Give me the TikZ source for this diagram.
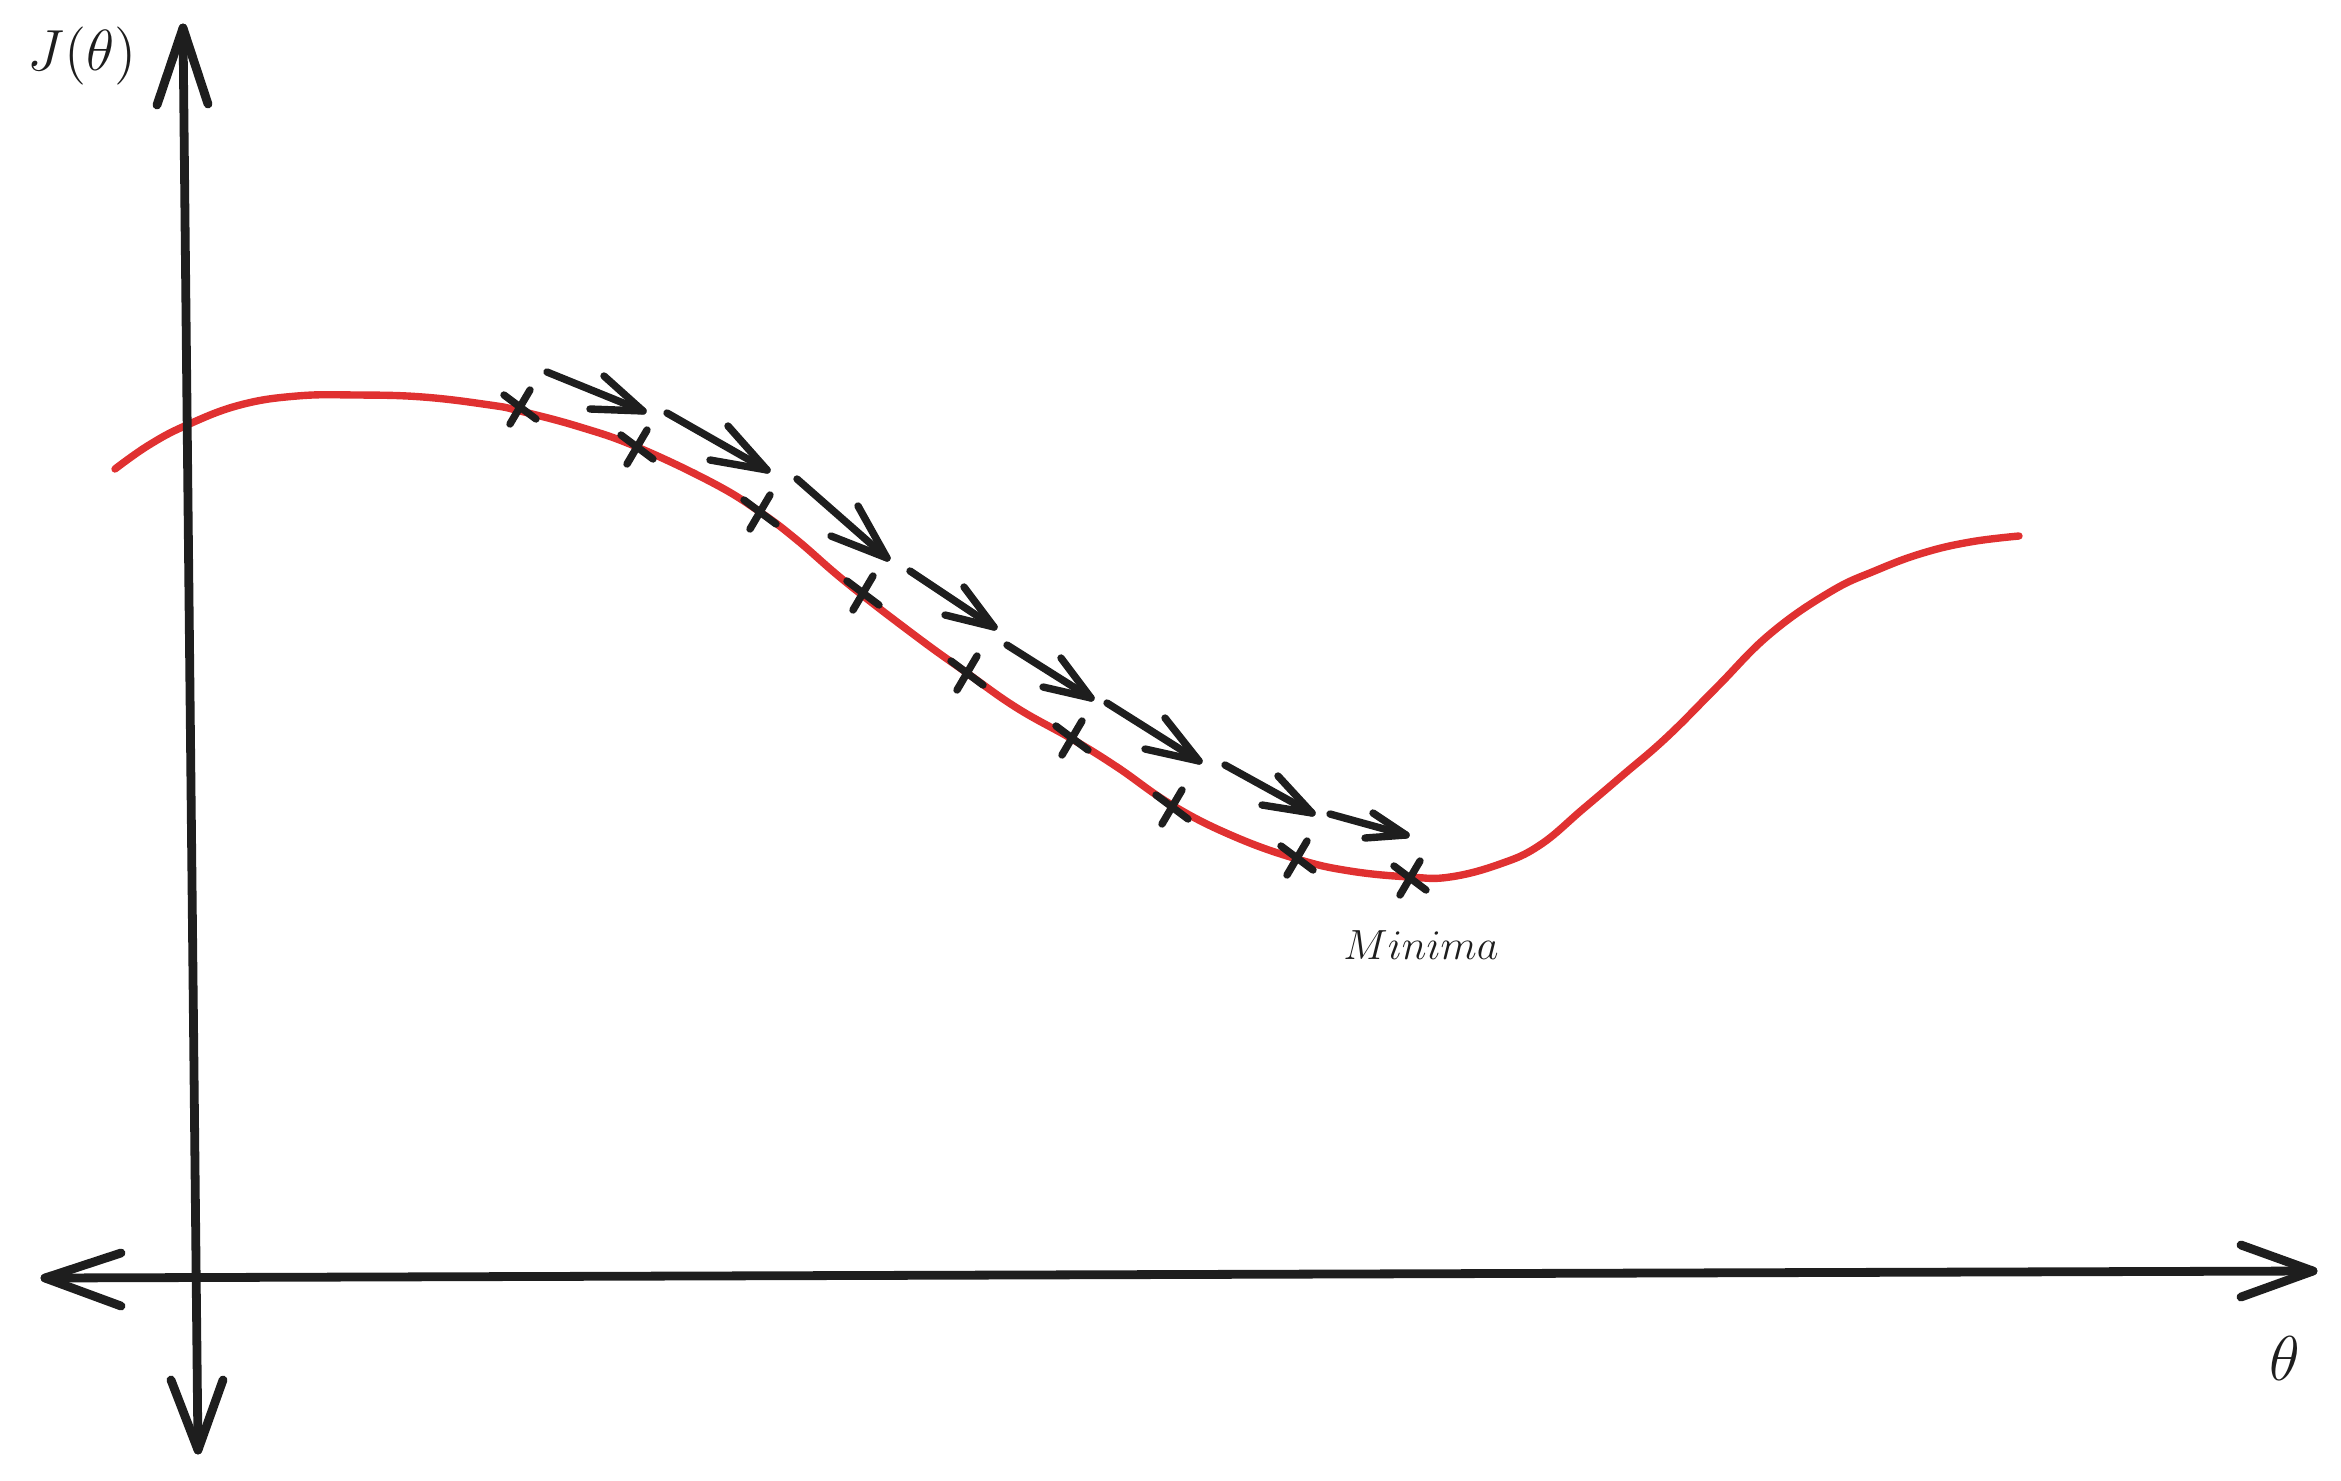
\documentclass[tikz,border=0pt]{standalone}
\usepackage{fix-cm}
\definecolor{inkblack}{HTML}{1E1E1E}
\definecolor{curvered}{HTML}{E03131}
\begin{document}
\begin{tikzpicture}[x=0.01cm,y=-0.01cm,line cap=round,line join=round,
  axisline/.style={draw=inkblack,line width=2.5pt},
  stepline/.style={draw=inkblack,line width=2.1pt},
  costcurve/.style={draw=curvered,line width=2.1pt},
  lbl/.style={inner sep=0pt,text=inkblack}]
\useasboundingbox[fill=white] (0,0) rectangle (2341,1481);

% cost curve
\draw[costcurve] plot[smooth,tension=0.7] coordinates {
 (115,469) (149,445) (187,425) (240,405) (297,396) (357,395) (423,397)
 (490,405) (520,411) (580,427) (637,447) (713,483) (760,512) (797,540)
 (847,583) (917,637) (967,673) (1017,708) (1072,739) (1117,767) (1172,805)
 (1233,836) (1297,859) (1350,871) (1410,877) (1450,877) (1500,864)
 (1540,845) (1583,809) (1623,775) (1667,737) (1717,687) (1770,634)
 (1830,592) (1877,570) (1923,553) (1970,542) (2019,536)};

% axes
\coordinate (ytop) at (183,28);
\coordinate (ybot) at (198,1450);
\coordinate (xleft) at (45,1278);
\coordinate (xright) at (2313,1271);
\draw[axisline] (ybot) -- (ytop);
\draw[axisline] (ytop) ++(-26,77) -- (ytop) -- ++(25,76);
\draw[axisline] (ybot) ++(-27,-70) -- (ybot) -- ++(25,-70);
\draw[axisline] (xleft) -- (xright);
\draw[axisline] (xleft) ++(76,-25) -- (xleft) -- ++(76,28);
\draw[axisline] (xright) ++(-72,-26) -- (xright) -- ++(-72,26);

% step markers
\foreach \i/\mx/\my in {1/520/407,2/637/447,3/760/512,4/863/593,5/967/673,
                        6/1072/738,7/1172/807,8/1297/858,9/1410/878}{
  \coordinate (m\i) at (\mx,\my);
  \draw[stepline] (m\i) ++(10,-17) -- ++(-20,34);
  \draw[stepline] (m\i) ++(-16,-12) -- ++(32,24);
}

% step arrows
\foreach \i/\tx/\ty/\hx/\hy/\ax/\ay/\bx/\by in {
  1/547/372/643/411/-39/-35/-53/-2,
  2/667/413/767/470/-39/-44/-57/-10,
  3/797/479/887/558/-29/-52/-56/-22,
  4/910/571/994/627/-30/-40/-49/-12,
  5/1007/645/1091/698/-30/-40/-48/-11,
  6/1107/703/1199/761/-34/-43/-54/-12,
  7/1225/765/1312/813/-34/-37/-50/-8,
  8/1330/814/1406/835/-33/-22/-41/3}{
  \coordinate (s\i) at (\tx,\ty);
  \coordinate (e\i) at (\hx,\hy);
  \draw[stepline] (s\i) -- (e\i);
  \draw[stepline] (e\i) ++(\ax,\ay) -- (e\i) -- ++(\bx,\by);
}

% labels
\node[lbl,anchor=base,font=\fontsize{16.5}{20}\selectfont] (jlabel) at (82,70) {$J(\theta)$};
\node[lbl,anchor=base,font=\fontsize{18}{22}\selectfont] (thetalabel) at (2285,1380) {$\theta$};
\node[lbl,anchor=base,font=\fontsize{12}{14}\selectfont] (minlabel) at (1421,959) {$Minima$};
\end{tikzpicture}
\end{document}
